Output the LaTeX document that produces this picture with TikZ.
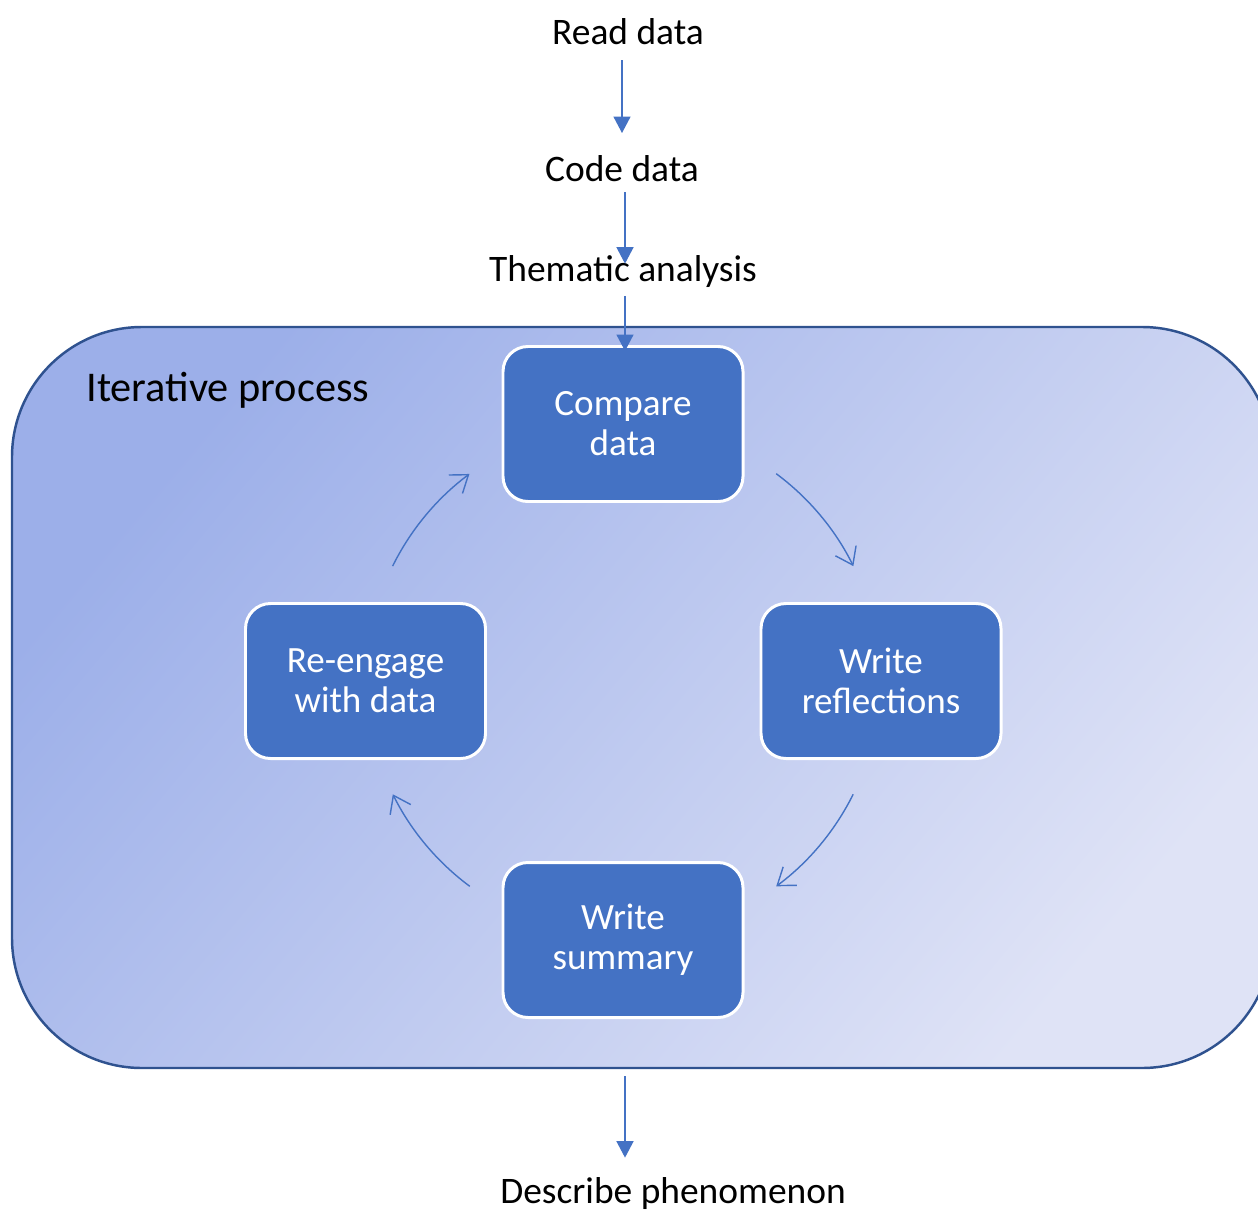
\documentclass[tikz,border=0pt]{standalone}
\usepackage{fontspec}
\setmainfont{Carlito}
\usetikzlibrary{arrows.meta}

\definecolor{taskblue}{HTML}{4472C4}
\definecolor{edgeblue}{HTML}{2F528F}
\definecolor{shadetop}{HTML}{9CAFE9}
\definecolor{shadebot}{HTML}{DFE3F6}

\tikzset{
  label text/.style={inner sep=0pt, font=\fontsize{21.3}{23.5}\selectfont},
  task/.style={draw=white, line width=1.7pt, fill=taskblue, rounded corners=0.5cm,
    minimum width=4.8cm, minimum height=3.1cm, align=center, text=white,
    font=\fontsize{21.1}{22.7}\selectfont},
  flow/.style={draw=taskblue, line width=0.9pt, -{Triangle[length=3.3mm,width=3.4mm]}},
  turn/.style={draw=taskblue, line width=0.8pt, -{Straight Barb[length=3.2mm,width=4.6mm]}},
}

\begin{document}
\begin{tikzpicture}
  \useasboundingbox (0,0) rectangle (25.16,-24.3);

  % iterative process
  \node[draw=edgeblue, line width=1.4pt, rounded corners=2.6cm,
        top color=shadetop, bottom color=shadebot, shading angle=50,
        minimum width=25.2cm, minimum height=14.82cm] (loop) at (12.84,-13.95) {};
  \node[label text, anchor=west, font=\fontsize{24.1}{26}\selectfont] (iter) at (1.72,-7.8) {Iterative process};

  \node[label text] (read) at (12.56,-0.64) {Read data};
  \node[label text] (code) at (12.44,-3.38) {Code data};
  \node[label text] (thematic) at (12.46,-5.44) {Thematic analysis};
  \node[label text] (describe) at (13.46,-23.88) {Describe phenomenon};

  \node[task] (compare) at (12.46,-8.48) {Compare\\data};
  \node[task] (reflect) at (17.62,-13.62) {Write\\reflections};
  \node[task] (reengage) at (7.31,-13.62) {Re-engage\\with data};
  \node[task] (summary) at (12.46,-18.8) {Write\\summary};

  \draw[flow, shorten <=0.3cm, shorten >=0.45cm] (code |- read.south) -- (code.north);
  \draw[flow, shorten <=0.2cm] ([xshift=0.06cm]code.south) -- ([xshift=0.06cm,yshift=-0.16cm]code.south |- thematic.north);
  \draw[flow, shorten <=0.15cm] ([xshift=0.04cm]compare |- thematic.south) -- ([xshift=0.04cm,yshift=-0.12cm]compare.north);
  \draw[flow, shorten <=0.14cm, shorten >=0.4cm] ([xshift=0.04cm]loop.south -| compare) -- ([xshift=0.04cm]compare |- describe.north);

  % cycle
  \coordinate (mid) at (12.46,-13.6);
  \draw[turn] ([shift={(53.4:5.14)}]mid) arc[start angle=53.4, end angle=26.3, radius=5.14cm];
  \draw[turn] ([shift={(-26.4:5.14)}]mid) arc[start angle=-26.4, end angle=-53.4, radius=5.14cm];
  \draw[turn] ([shift={(233.4:5.14)}]mid) arc[start angle=233.4, end angle=206.4, radius=5.14cm];
  \draw[turn] ([shift={(153.7:5.14)}]mid) arc[start angle=153.7, end angle=126.7, radius=5.14cm];
\end{tikzpicture}
\end{document}
